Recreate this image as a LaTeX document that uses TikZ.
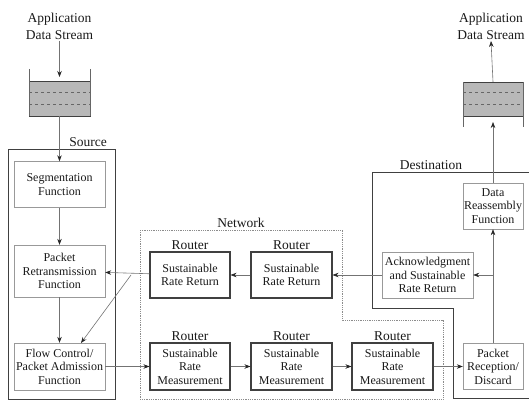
\documentclass[tikz,border=0pt]{standalone}
\usepackage{fontspec}
\setmainfont{Liberation Serif}
\usetikzlibrary{arrows.meta,positioning}

\begin{document}
\begin{tikzpicture}[x=1pt, y=-1pt,
    fbox/.style={draw=black!40, minimum width=91pt, minimum height=46pt, align=center, font=\fontsize{12}{13.5}\selectfont, text=black!90, inner sep=1pt},
    rbox/.style={draw=black!75, line width=1.1pt, minimum width=80pt, minimum height=46pt, align=center, font=\fontsize{12}{13.5}\selectfont, text=black!90, inner sep=1pt},
    rlbl/.style={font=\fontsize{13.5}{15}\selectfont, text=black!90, inner sep=1pt},
    apptxt/.style={align=center, font=\fontsize{13.5}{17}\selectfont, text=black!90, inner sep=1pt},
    region/.style={draw=black!75, line width=1pt},
    netw/.style={draw=black!45, densely dotted, line width=0.8pt},
    buf/.style={draw=black!75, fill=black!28, minimum width=61pt, minimum height=35pt, inner sep=0pt},
    wall/.style={draw=black!60, line width=0.6pt},
    arr/.style={draw=black!55, line width=0.6pt, -{Stealth[length=6pt, width=4.5pt, color=black!85]}}
]
\useasboundingbox (0,0) rectangle (529,401);

% regions
\draw[region] (8,149) rectangle (115,399);
\node[rlbl, anchor=south east] (srclbl) at (108,148) {Source};
\draw[netw] (140,230) -- (342,230) -- (342,320) -- (443,320) -- (443,399) -- (140,399) -- cycle;
\node[rlbl, anchor=south] (netlbl) at (241,229) {Network};
\draw[region] (529,172) -- (372,172) -- (372,308) -- (453,308) -- (453,398) -- (529,398);
\node[rlbl, anchor=south] (dstlbl) at (431,171) {Destination};

% buffers
\node[buf] (bufin) at (59.5,98.5) {};
\draw[wall] (29,69) -- (29,116) (90,69) -- (90,116);
\draw[wall, dashed] (29,92) -- (90,92) (29,104) -- (90,104);
\node[buf, minimum width=60pt, minimum height=34pt] (bufout) at (493,99) {};
\draw[wall] (463,82) -- (463,127) (523,82) -- (523,127);
\draw[wall, dashed] (463,92) -- (523,92) (463,104) -- (523,104);

\node[apptxt] (appin) at (59.5,26.5) {Application\\Data Stream};
\node[apptxt] (appout) at (491,26.5) {Application\\Data Stream};

% source side
\node[fbox] (seg) at (59.5,184.5) {Segmentation\\Function};
\node[fbox, minimum height=52pt] (retx) at (59.5,271) {Packet\\Retransmission\\Function};
\node[fbox, minimum height=47pt] (flow) at (59.5,366.5) {Flow Control/\\Packet Admission\\Function};

% routers
\node[rbox] (srr1) at (190,275) {Sustainable\\Rate Return};
\node[rbox, minimum width=81pt] (srr2) at (291.5,275) {Sustainable\\Rate Return};
\node[rbox, minimum height=47pt] (srm1) at (190,366.5) {Sustainable\\Rate\\Measurement};
\node[rbox, minimum width=81pt, minimum height=47pt] (srm2) at (291.5,366.5) {Sustainable\\Rate\\Measurement};
\node[rbox, minimum width=81pt, minimum height=47pt] (srm3) at (392.5,366.5) {Sustainable\\Rate\\Measurement};
\foreach \r in {srr1,srr2,srm1,srm2,srm3}
  \node[rlbl, above=1pt of \r] (\r lbl) {Router};

% destination side
\node[fbox] (ack) at (427.5,275) {Acknowledgment\\and Sustainable\\Rate Return};
\node[fbox, minimum width=60pt] (reasm) at (493,206) {Data\\Reassembly\\Function};
\node[fbox, minimum width=60pt] (recv) at (493,366.5) {Packet\\Reception/\\Discard};

\coordinate (inTip) at (59.5,77);
\coordinate (outTip) at (493,122);
\coordinate (split) at (493,275);
\coordinate (branch) at (131,275);
\coordinate (flowIn) at (81,343);

\draw[arr] (appin.south) -- (inTip);
\draw[arr] (bufin.south) -- (seg.north);
\draw[arr] (seg) -- (retx);
\draw[arr] (retx) -- (flow);
\draw[arr] (flow) -- (srm1);
\draw[arr] (srm1) -- (srm2);
\draw[arr] (srm2) -- (srm3);
\draw[arr] (srm3) -- (recv);
\draw[arr] (recv) -- (reasm);
\draw[arr] (split) -- (ack);
\draw[arr] (ack) -- (srr2);
\draw[arr] (srr2) -- (srr1);
\draw[arr] (srr1) -- (retx);
\draw[arr] (branch) -- (flowIn);
\draw[arr] (reasm.north) -- (outTip);
\draw[arr] (bufout.north) -- (appout.south);
\end{tikzpicture}
\end{document}
